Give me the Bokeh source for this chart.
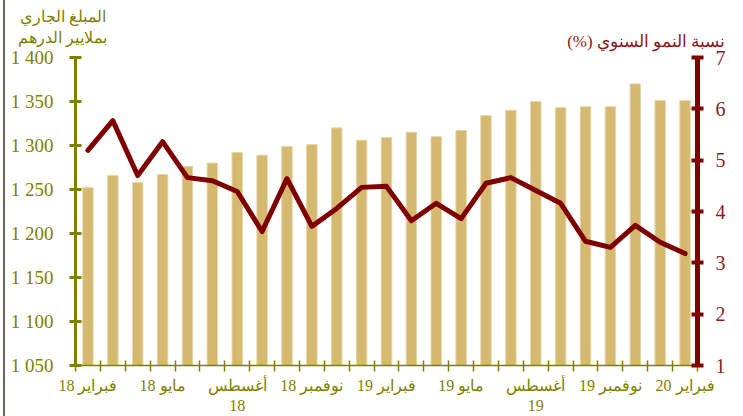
from bokeh.plotting import figure
from bokeh.models import (Range1d, LinearAxis, FixedTicker, Label, ColumnDataSource)
from bokeh.embed import file_html
from bokeh.resources import INLINE

# ---------------- data ----------------
months = ["فبراير 18", "مارس 18", "أبريل 18", "مايو 18", "يونيو 18", "يوليو 18",
          "أغسطس 18", "شتنبر 18", "أكتوبر 18", "نونبر 18", "دجنبر 18", "يناير 19",
          "فبراير 19", "مارس 19", "أبريل 19", "مايو 19", "يونيو 19", "يوليو 19",
          "أغسطس 19", "شتنبر 19", "أكتوبر 19", "نونبر 19", "دجنبر 19", "يناير 20",
          "فبراير 20"]
amount = [1252, 1266, 1258, 1267, 1276, 1280, 1292, 1289, 1299, 1301, 1320, 1306,
          1309, 1315, 1310, 1317, 1334, 1340, 1350, 1343, 1344, 1344, 1370, 1351, 1351]
growth = [5.19, 5.77, 4.70, 5.36, 4.66, 4.60, 4.39, 3.61, 4.64, 3.71, 4.06, 4.47,
          4.49, 3.82, 4.16, 3.86, 4.55, 4.66, 4.41, 4.16, 3.42, 3.30, 3.73, 3.40, 3.18]

label_idx = [0, 3, 6, 9, 12, 15, 18, 21, 24]
label_txt = ["18 فبراير", "18 مايو", "أغسطس\n18", "18 نوفمبر", "19 فبراير",
             "19 مايو", "أغسطس\n19", "19 نوفمبر", "20 فبراير"]

left_ticks = [1050, 1100, 1150, 1200, 1250, 1300, 1350, 1400]
left_tick_txt = ["1 050", "1 100", "1 150", "1 200", "1 250", "1 300", "1 350", "1 400"]
right_ticks = [1, 2, 3, 4, 5, 6, 7]

left_title = "المبلغ الجاري\nبملايير الدرهم"
right_title = "(%) نسبة النمو السنوي"

# ---------------- styles ----------------
OLIVE = "#808000"
DARKRED = "#7f0000"
LABELRED = "#8b1a1a"
BAR = "#d5b970"
FONT = "Liberation Serif"

n = len(months)
xs = [i + 0.5 for i in range(n)]
src = ColumnDataSource(dict(x=xs, amount=amount, growth=growth, month=months))

p = figure(width=738, height=416, output_backend="svg", toolbar_location=None,
           x_range=Range1d(0, n), y_range=Range1d(1050, 1400),
           min_border_left=70, min_border_right=46, min_border_top=57, min_border_bottom=51,
           styles={"margin-left": "3px", "border-left": "2px solid #6b6560"})
p.outline_line_color = None
p.xgrid.visible = False
p.ygrid.visible = False
p.xaxis.visible = False
p.yaxis.visible = False
p.background_fill_color = "white"
p.border_fill_color = "white"

p.extra_y_ranges = {"g": Range1d(1, 7)}

p.vbar(x="x", top="amount", bottom=1050, width=0.42, source=src,
       fill_color=BAR, line_color="#e6d5a6", line_width=1)
p.line(x="x", y="growth", source=src, y_range_name="g",
       line_color=DARKRED, line_width=5, line_join="round", line_cap="round")

# left axis
la = LinearAxis(ticker=FixedTicker(ticks=left_ticks, minor_ticks=[]),
                major_label_overrides={t: s for t, s in zip(left_ticks, left_tick_txt)})
la.axis_line_color = OLIVE
la.axis_line_width = 3
la.major_tick_line_color = OLIVE
la.major_tick_line_width = 3
la.major_tick_in = 6
la.major_tick_out = 6
la.minor_tick_line_color = None
la.major_label_text_font = FONT
la.major_label_text_font_size = "19px"
la.major_label_text_color = OLIVE
la.major_label_standoff = 16
p.add_layout(la, "left")

# right axis
ra = LinearAxis(y_range_name="g", ticker=FixedTicker(ticks=right_ticks, minor_ticks=[]))
ra.axis_line_color = DARKRED
ra.axis_line_width = 5
ra.major_tick_line_color = DARKRED
ra.major_tick_line_width = 4
ra.major_tick_in = 6
ra.major_tick_out = 6
ra.minor_tick_line_color = None
ra.major_label_text_font = FONT
ra.major_label_text_font_size = "20px"
ra.major_label_text_color = LABELRED
ra.major_label_standoff = 12
p.add_layout(ra, "right")

# bottom axis
bticks = [xs[i] for i in label_idx]
ba = LinearAxis(ticker=FixedTicker(ticks=bticks, minor_ticks=list(range(n + 1))),
                major_label_overrides={t: s for t, s in zip(bticks, label_txt)})
ba.axis_line_color = OLIVE
ba.axis_line_width = 1.5
ba.major_tick_line_color = None
ba.minor_tick_line_color = OLIVE
ba.minor_tick_line_width = 1.5
ba.minor_tick_in = 5
ba.minor_tick_out = 6
ba.major_label_text_font = FONT
ba.major_label_text_font_size = "16px"
ba.major_label_text_color = OLIVE
ba.major_label_standoff = 5
p.add_layout(ba, "below")

# titles (placed in the top panel so they are not clipped to the frame)
p.add_layout(Label(x=-0.52, y=1434.5, text=left_title, text_align="center",
                   text_baseline="middle", text_font=FONT, text_font_size="16px",
                   text_line_height=1.25, text_color=OLIVE), "above")
p.add_layout(Label(x=22.94, y=1418, text=right_title, text_align="center",
                   text_baseline="middle", text_font=FONT, text_font_size="17px",
                   text_color=LABELRED), "above")

open("out.html", "w").write(file_html(p, INLINE))
